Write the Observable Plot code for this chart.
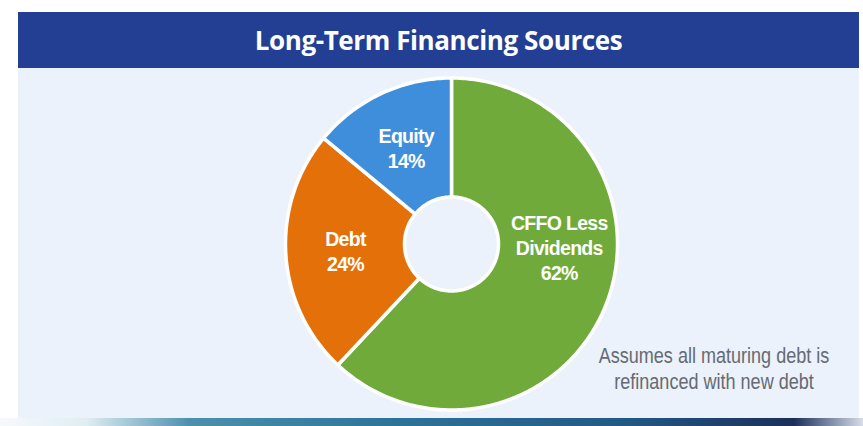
<!DOCTYPE html>
<html>
<head>
<meta charset="utf-8">
<script src="https://cdn.jsdelivr.net/npm/d3@7"></script>
<script src="https://cdn.jsdelivr.net/npm/@observablehq/plot@0.6"></script>
<style>
  body { margin: 0; width: 863px; height: 426px; position: relative; overflow: hidden; background: #ffffff; }
  #title { position: absolute; left: 18px; top: 12px; width: 841px; height: 56px; background: #233f94;
           color: #ffffff; font: 700 26px "Open Sans", sans-serif; display: flex; align-items: center; justify-content: center; letter-spacing: -0.4px; }
  #panel { position: absolute; left: 18px; top: 68px; width: 841px; height: 350px; background: #ebf2fb; }
  #strip { position: absolute; left: 0; top: 418px; width: 863px; height: 8px;
           background: linear-gradient(90deg, #f6f9fb 0%, #dfeef2 10%, #4c90ad 22%, #2f7399 45%, #215a86 72%, #1c2f58 92%, #d6dde8 100%); }
  #note { position: absolute; left: 560px; top: 343px; width: 308px; text-align: center; color: #666a72;
          font: 400 22px "Liberation Sans", Arial, sans-serif; line-height: 26px; white-space: nowrap;
          transform: scaleX(0.82); transform-origin: 154px 0; }
  #chart { position: absolute; left: 18px; top: 68px; }
</style>
</head>
<body>
<div id="title">Long-Term Financing Sources</div>
<div id="panel"></div>
<div id="strip"></div>
<div id="chart"></div>
<div id="note">Assumes all maturing debt is<br>refinanced with new debt</div>
<script>
// ---- data ----
const categories = ["CFFO Less Dividends", "Debt", "Equity"];
const shares = [62, 24, 14];
const labels = ["CFFO Less\nDividends\n62%", "Debt\n24%", "Equity\n14%"];
const colors = ["#6faa3a", "#e4700a", "#3f8edc"];

// ---- layout ----
const W = 841, H = 350;
const cx = 433, cy = 175.5, R = 166;   // donut centre and outer radius (px)
const inner = 47 / R;                  // inner radius as a fraction

// build slice polygons from the shares (angles clockwise from 12 o'clock)
const total = d3.sum(shares);
let acc = 0;
const slices = categories.map((c, i) => {
  const a0 = acc / total * 2 * Math.PI;
  acc += shares[i];
  const a1 = acc / total * 2 * Math.PI;
  return { key: c, a0, a1, label: labels[i] };
});
const pts = [];
for (const s of slices) {
  const n = Math.max(2, Math.ceil((s.a1 - s.a0) / (Math.PI / 180)));
  for (let k = 0; k <= n; k++) {
    const a = s.a0 + (s.a1 - s.a0) * k / n;
    pts.push({ key: s.key, x: Math.sin(a), y: -Math.cos(a) });
  }
  for (let k = n; k >= 0; k--) {
    const a = s.a0 + (s.a1 - s.a0) * k / n;
    pts.push({ key: s.key, x: inner * Math.sin(a), y: -inner * Math.cos(a) });
  }
}
const lr = 0.64;
const labelPts = slices.map(s => {
  const m = (s.a0 + s.a1) / 2;
  return { key: s.key, label: s.label, x: lr * Math.sin(m), y: -lr * Math.cos(m) };
});

const textStyle = { fill: "white", fontSize: 19.5, fontWeight: "bold", fontFamily: "Liberation Sans, Arial, sans-serif", lineHeight: 1.28, lineAnchor: "middle", textAnchor: "middle" };

const chart = Plot.plot({
  width: W, height: H,
  margin: 0,
  style: { background: "transparent", overflow: "visible", letterSpacing: "-0.7px" },
  x: { domain: [-cx / R, (W - cx) / R], range: [0, W], axis: null },
  y: { domain: [-cy / R, (H - cy) / R], range: [0, H], axis: null },
  color: { domain: categories, range: colors },
  marks: [
    Plot.line(pts, { x: "x", y: "y", z: "key", fill: "key", stroke: "white", strokeWidth: 3.5, strokeLinejoin: "round", curve: "linear-closed" }),
    Plot.text(labelPts.filter(d => d.key !== "CFFO Less Dividends"), { x: "x", y: "y", text: "label", ...textStyle }),
    Plot.text(labelPts.filter(d => d.key === "CFFO Less Dividends"), { x: "x", y: "y", text: "label", dx: 9, dy: -36, ...textStyle })
  ]
});
document.getElementById("chart").appendChild(chart);
</script>
</body>
</html>
